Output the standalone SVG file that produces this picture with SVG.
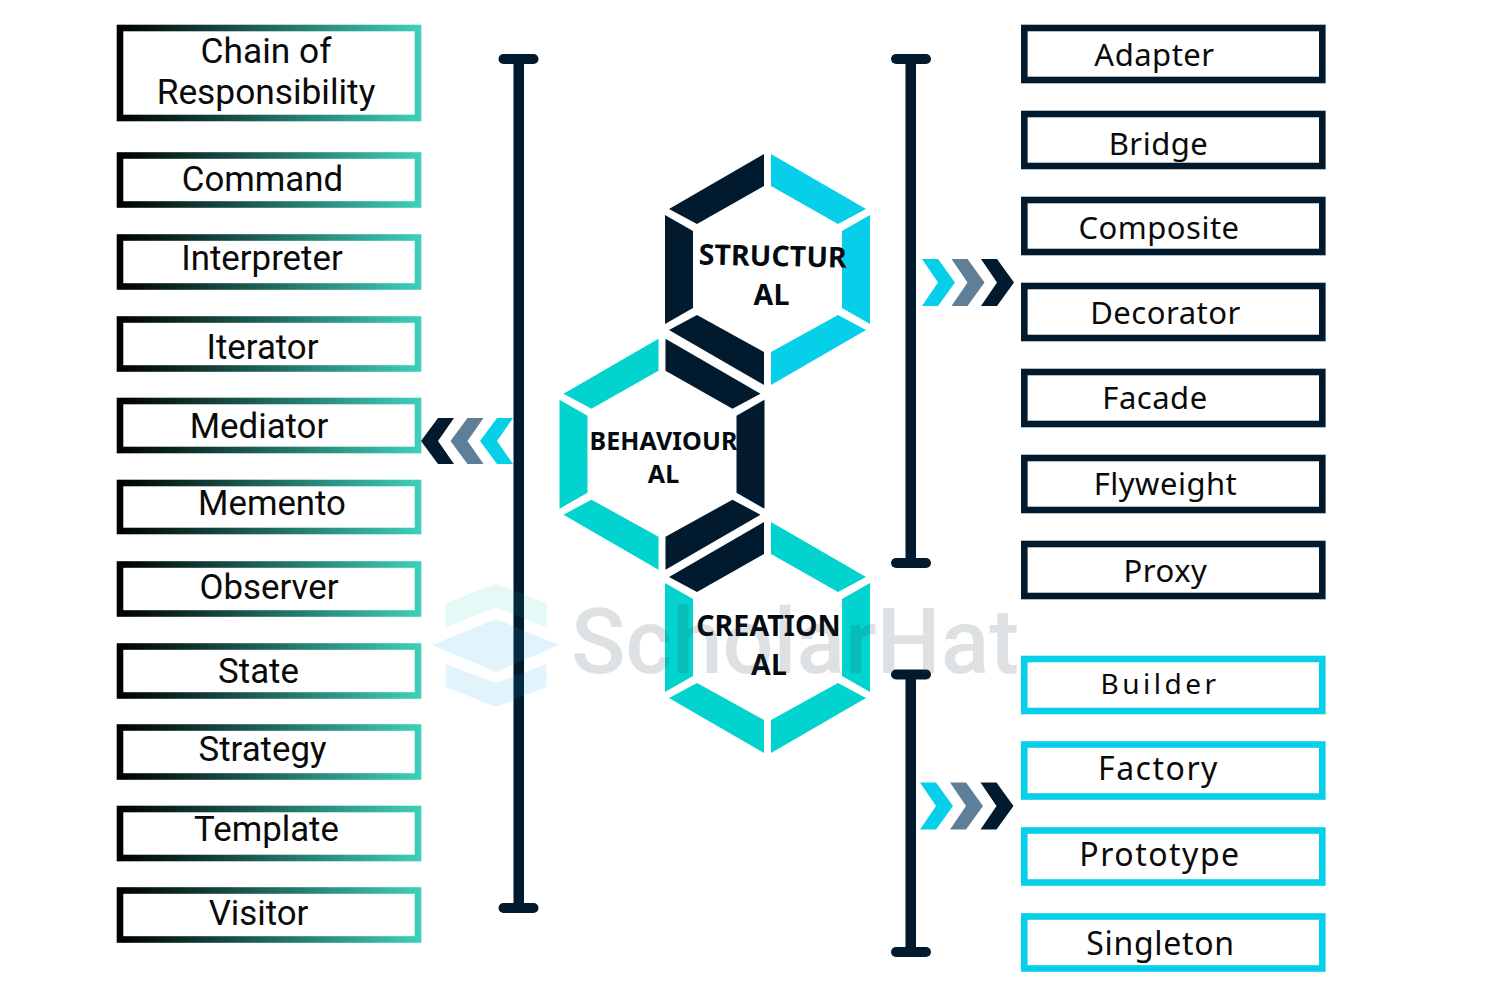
<svg xmlns="http://www.w3.org/2000/svg" width="1500" height="1000" viewBox="0 0 1500 1000">
<style>
.dark{fill:#021a2d}.cyan{fill:#05cfe9}.teal{fill:#02d3cf}.gray{fill:#5f7f99}
.bar{fill:#021a2d}
.lb rect{fill:#fff;stroke:url(#g);stroke-width:6.6}
.rd rect{fill:#fff;stroke:#021a2d;stroke-width:6.6}
.rc rect{fill:#fff;stroke:#05cfe9;stroke-width:6.6}
.lb text{font:34.8px Roboto,"Liberation Sans",sans-serif;fill:#0a0a0a;text-anchor:middle}
.lb text.c{font-size:35.300px}
.rd text{font:31px "Noto Sans","Open Sans",sans-serif;fill:#0a0a0a;text-anchor:middle;letter-spacing:.5px}
.rc text{font:32px "Noto Sans","Open Sans",sans-serif;fill:#0a0a0a;text-anchor:middle;letter-spacing:1.2px}
.hx text{font:bold 28.500px "Noto Sans","Open Sans",sans-serif;fill:#050a10;text-anchor:middle;letter-spacing:.1px}
.hx text.b{font-size:25px}
</style>
<defs>
<linearGradient id="g" gradientUnits="objectBoundingBox" x1="0" y1="0" x2="1" y2="0"><stop offset="0" stop-color="#000"/><stop offset="1" stop-color="#3dcfb9"/></linearGradient>
<polygon id="tl" points="764,154 764,186 697,224 669,209"/>
<polygon id="tr" points="771,154 771,186 838,224 866,209"/>
<polygon id="l" points="665,215 693,231 693,308 665,324"/>
<polygon id="r" points="870,215 842,231 842,308 870,324"/>
<polygon id="bl" points="669,330 697,315 764,352 764,385"/>
<polygon id="br" points="866,330 838,315 771,352 771,385"/>
<polygon id="chr" points="0,-23.5 16,-23.5 33,0 16,23.5 0,23.5 16,0"/>
<polygon id="chl" points="0,0 17,-23 33,-23 17,0 33,23 17,23"/>
</defs>
<rect width="1500" height="1000" fill="#fff"/>
<g id="connectors">
<g id="bar-behavioural"><rect class="bar" x="513.5" y="58" width="10.5" height="850"/><rect class="bar" x="498.5" y="54" width="40" height="10" rx="5"/><rect class="bar" x="498.5" y="903" width="40" height="10" rx="5"/></g>
<g id="bar-structural"><rect class="bar" x="905.5" y="58" width="10.5" height="506"/><rect class="bar" x="891" y="54" width="40" height="10" rx="5"/><rect class="bar" x="891" y="558" width="40" height="10" rx="5"/></g>
<g id="bar-creational"><rect class="bar" x="905.5" y="672" width="10.5" height="280"/><rect class="bar" x="891" y="669.5" width="40" height="10" rx="5"/><rect class="bar" x="891" y="947" width="40" height="10" rx="5"/></g>
<g id="chevrons-left"><use href="#chl" class="dark" x="421" y="441"/><use href="#chl" class="gray" x="450.5" y="441"/><use href="#chl" class="cyan" x="480" y="441"/></g>
<g id="chevrons-top"><use href="#chr" class="cyan" x="922" y="282.5"/><use href="#chr" class="gray" x="951.5" y="282.5"/><use href="#chr" class="dark" x="981" y="282.5"/></g>
<g id="chevrons-bottom"><use href="#chr" class="cyan" x="920" y="806"/><use href="#chr" class="gray" x="950" y="806"/><use href="#chr" class="dark" x="980.5" y="806"/></g>
</g>
<g id="hex-structural" class="hx">
<use href="#tl" class="dark"/><use href="#tr" class="cyan"/><use href="#l" class="dark"/><use href="#r" class="cyan"/><use href="#bl" class="dark"/><use href="#br" class="cyan"/>
<text x="772.500" y="266" transform="rotate(1.2 772 266)">STRUCTUR</text><text x="771.500" y="305">AL</text>
</g>
<g id="hex-behavioural" class="hx">
<g transform="translate(-105.5 184.7)"><use href="#tl" class="teal"/><use href="#tr" class="dark"/><use href="#l" class="teal"/><use href="#r" class="dark"/><use href="#bl" class="teal"/><use href="#br" class="dark"/></g>
<text class="b" x="663.500" y="450">BEHAVIOUR</text><text class="b" x="663.500" y="483">AL</text>
</g>
<g id="hex-creational" class="hx">
<g transform="translate(0 368)"><use href="#tl" class="dark"/><use href="#tr" class="teal"/><use href="#l" class="teal"/><use href="#r" class="teal"/><use href="#bl" class="teal"/><use href="#br" class="teal"/></g>
<text x="768.500" y="636">CREATION</text><text x="769" y="675">AL</text>
</g>
<g id="node-chain" class="lb"><rect x="120" y="28" width="298" height="90"/><text class="c" x="266" y="63">Chain of</text><text class="c" x="266" y="104">Responsibility</text></g>
<g id="node-command" class="lb"><rect x="120" y="155.500" width="298" height="49"/><text x="262.500" y="191">Command</text></g>
<g id="node-interpreter" class="lb"><rect x="120" y="237.500" width="298" height="49"/><text x="262" y="269.500">Interpreter</text></g>
<g id="node-iterator" class="lb"><rect x="120" y="319.500" width="298" height="49"/><text x="262.500" y="359">Iterator</text></g>
<g id="node-mediator" class="lb"><rect x="120" y="401" width="298" height="49"/><text x="259" y="438">Mediator</text></g>
<g id="node-memento" class="lb"><rect x="120" y="483" width="298" height="48"/><text x="272" y="515">Memento</text></g>
<g id="node-observer" class="lb"><rect x="120" y="564.500" width="298" height="49"/><text x="269" y="599">Observer</text></g>
<g id="node-state" class="lb"><rect x="120" y="646.500" width="298" height="49"/><text x="258.500" y="683">State</text></g>
<g id="node-strategy" class="lb"><rect x="120" y="727.500" width="298" height="49"/><text x="262.500" y="761">Strategy</text></g>
<g id="node-template" class="lb"><rect x="120" y="809" width="298" height="49"/><text x="266.500" y="841">Template</text></g>
<g id="node-visitor" class="lb"><rect x="120" y="890.500" width="298" height="49"/><text x="258.500" y="925">Visitor</text></g>
<g id="node-adapter" class="rd"><rect x="1024.300" y="28" width="298" height="52"/><text x="1154.500" y="65.500">Adapter</text></g>
<g id="node-bridge" class="rd"><rect x="1024.300" y="114" width="298" height="52"/><text x="1158.500" y="154.500">Bridge</text></g>
<g id="node-composite" class="rd"><rect x="1024.300" y="200" width="298" height="52"/><text x="1159" y="238.500">Composite</text></g>
<g id="node-decorator" class="rd"><rect x="1024.300" y="286" width="298" height="52"/><text x="1165.500" y="324">Decorator</text></g>
<g id="node-facade" class="rd"><rect x="1024.300" y="372" width="298" height="52"/><text x="1155" y="409">Facade</text></g>
<g id="node-flyweight" class="rd"><rect x="1024.300" y="458" width="298" height="52"/><text x="1165.500" y="495">Flyweight</text></g>
<g id="node-proxy" class="rd"><rect x="1024.300" y="544" width="298" height="52"/><text x="1165.500" y="582">Proxy</text></g>
<g id="node-builder" class="rc"><rect x="1024.300" y="659" width="298" height="52"/><text x="1160" y="694" style="font-size:28px;letter-spacing:3.5px">Builder</text></g>
<g id="node-factory" class="rc"><rect x="1024.300" y="744.500" width="298" height="52"/><text x="1158.500" y="780" style="letter-spacing:1.500px">Factory</text></g>
<g id="node-prototype" class="rc"><rect x="1024.300" y="830.500" width="298" height="52"/><text x="1160" y="866" style="letter-spacing:1.500px">Prototype</text></g>
<g id="node-singleton" class="rc"><rect x="1024.300" y="916.500" width="298" height="52"/><text x="1160.500" y="955" style="letter-spacing:.7px">Singleton</text></g>
<g id="watermark">
<polygon points="496,584 546.500,603 546.500,627 496,608 445.700,627 445.700,603" fill="#00c4b4" opacity=".1"/>
<polygon points="432,645 496,619 559,645 496,672" fill="#0aa5e6" opacity=".12"/>
<polygon points="445.700,664 496,683 546.500,664 546.500,687 496,707 445.700,687" fill="#0aa5e6" opacity=".12"/>
<text x="571" y="673" font-family="Roboto,'Liberation Sans',sans-serif" font-weight="500" font-size="90" fill="#2a3d48" opacity=".15">ScholarHat</text>
</g>
</svg>
